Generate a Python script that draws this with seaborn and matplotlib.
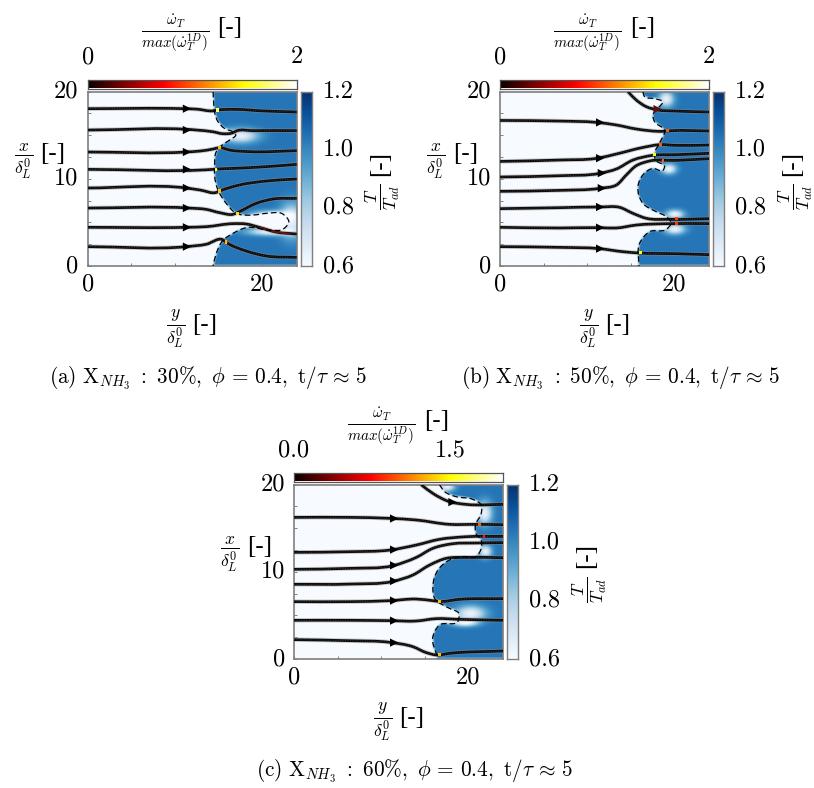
import numpy as np
import matplotlib
matplotlib.use("Agg")
import matplotlib.pyplot as plt
import seaborn as sns
from matplotlib.patches import PathPatch
from matplotlib.path import Path

sns.set_theme(style="ticks")
plt.rcParams["mathtext.fontset"] = "cm"
plt.rcParams["font.family"] = ["cmr10", "DejaVu Sans"]
plt.rcParams["axes.formatter.use_mathtext"] = True

W, H = 814, 788

# streamlines: y/delta values, then x/delta values
a_lines = [
    ([0, 11, 12.5, 14.4, 15, 17, 20, 24], [18.05, 18.05, 18.0, 17.8, 17.9, 17.97, 17.8, 17.67]),
    ([0, 12.5, 14.4, 15.5, 16.7, 17.06, 19, 24], [15.6, 15.6, 15.4, 15.18, 15.3, 15.49, 15.53, 15.53]),
    ([0, 11.3, 12.9, 14.4, 15.15, 16.3, 18.6, 24], [13.08, 13.08, 13.19, 13.42, 13.58, 13.3, 13.12, 13.23]),
    ([0, 14.4, 14.8, 16.7, 20.5, 24], [11.09, 11.09, 11.12, 11.2, 11.4, 11.66]),
    ([0, 11.3, 12.9, 14.8, 15.15, 17.4, 20.5, 24], [8.95, 8.95, 8.72, 8.45, 8.6, 9.29, 9.75, 9.98]),
    ([0, 11.6, 13.6, 15.15, 16.7, 17.4, 19.35, 21.3, 24], [6.65, 6.65, 6.5, 6.12, 5.93, 6.23, 7.19, 7.69, 7.76]),
    ([0, 11.3, 13.6, 16.7, 18.2, 19.7, 21.6, 24], [4.44, 4.44, 4.51, 4.86, 4.82, 4.44, 3.9, 3.67]),
    ([0, 11.3, 13.6, 15.5, 15.9, 18.2, 20.5, 24], [2.22, 2.22, 2.49, 3.02, 2.72, 1.72, 1.15, 0.99]),
]
b_lines = [
    ([14.7, 15.65, 16.8, 18.13, 20.2, 24], [20, 19.04, 18.28, 17.9, 17.78, 17.67]),
    ([0, 6.87, 11.07, 13.36, 15.65, 18.7, 19.85, 24], [16.7, 16.63, 16.48, 16.18, 15.72, 15.45, 15.53, 15.49]),
    ([0, 6.87, 11.07, 13.36, 16.4, 18.3, 20.2, 24], [12.0, 12.16, 12.35, 12.85, 13.6, 13.92, 13.84, 13.88]),
    ([0, 6.87, 11.45, 13.36, 15.27, 17.56, 20.2, 24], [10.21, 10.36, 10.63, 11.13, 12.16, 12.7, 12.77, 12.93]),
    ([0, 6.87, 11.45, 13.36, 14.5, 15.65, 17.18, 20.2, 24], [8.57, 8.68, 8.91, 9.29, 10.44, 11.51, 12.05, 12.12, 12.31]),
    ([0, 6.87, 11.45, 13.74, 15.27, 16.8, 19.47, 24], [6.58, 6.69, 6.77, 6.73, 6.04, 5.47, 5.35, 5.43]),
    ([0, 6.87, 11.45, 13.36, 15.65, 19.47, 24], [4.44, 4.36, 4.4, 4.36, 4.7, 4.86, 4.86]),
    ([0, 6.87, 11.45, 14.12, 16.03, 20.2, 24], [2.22, 2.14, 1.99, 1.64, 1.49, 1.41, 1.3]),
]
c_lines = [
    ([14.6, 15.95, 17.86, 19.77, 24], [20, 19.0, 18.05, 17.74, 17.74]),
    ([0, 6.4, 11, 14.05, 17.86, 20.9, 24], [16.25, 16.25, 16.14, 15.95, 15.45, 15.45, 15.41]),
    ([0, 6.4, 11, 14.05, 16.7, 19.77, 24], [12.24, 12.31, 12.5, 13.08, 13.73, 14.03, 14.07]),
    ([0, 6.4, 11.37, 14.05, 15.95, 18.24, 20.9, 24], [10.29, 10.4, 10.71, 11.66, 12.7, 13.23, 13.31, 13.35]),
    ([0, 6.4, 11.37, 13.66, 15.57, 17.48, 19.77, 24], [8.57, 8.6, 8.91, 9.64, 10.78, 11.55, 11.66, 11.62]),
    ([0, 6.4, 11, 14.05, 15.95, 16.7, 19.0, 24], [6.58, 6.58, 6.69, 6.88, 6.69, 6.6, 6.85, 6.92]),
    ([0, 6.4, 11, 14.05, 16.34, 19, 24], [4.44, 4.44, 4.4, 4.36, 4.63, 4.55, 4.44]),
    ([0, 6.4, 11, 13.66, 15.2, 16.34, 17.86, 24], [2.22, 2.1, 1.91, 1.41, 0.73, 0.46, 0.65, 0.92]),
]

# flame fronts (dashed), top to bottom
a_front_y = [14.4, 14.47, 14.6, 14.96, 15.9, 16.5, 17.0, 16.3, 15.34, 14.77, 14.58, 14.58, 14.96, 15.9, 17.06, 19, 20.5, 22.4, 23.1, 22.4, 21, 18.2, 16.7, 15.5, 14.77, 14.4]
a_front_x = [20, 18.66, 17.51, 16.56, 15.68, 15.49, 15.03, 14.45, 13.8, 13.12, 11.4, 10.25, 8.72, 7.19, 6.04, 5.85, 6.04, 5.97, 5.09, 4.2, 4.1, 4.4, 3.75, 2.9, 1.45, 0]
b_front_y = [16.4, 16.6, 17.75, 18.7, 18.13, 17.56, 17.75, 18.9, 18.3, 17.75, 17.86, 18.9, 18.7, 17.56, 16.4, 15.84, 16.4, 17.94, 19.1, 19.66, 19.1, 17.18, 16.03, 15.95]
b_front_x = [20, 19.43, 19.2, 18.85, 18.09, 17.32, 16.56, 15.6, 14.07, 12.93, 12.16, 11.4, 10.94, 11.2, 10.44, 9.1, 7.19, 6.23, 5.66, 4.97, 4.2, 3.94, 2.6, 0]
c_front_y = [16.7, 17.3, 18.63, 20.53, 21.5, 21.5, 20.84, 20.9, 21.5, 21.5, 20.9, 19.4, 17.86, 16.53, 15.95, 16.15, 17.86, 18.93, 18.8, 16.7, 15.95, 16.53]
c_front_x = [20, 19.2, 18.62, 18.32, 17.67, 16.7, 15.37, 14.4, 13.65, 12.7, 11.74, 11.74, 11.36, 10.2, 8.3, 6.96, 5.81, 5.24, 4.28, 3.9, 2.56, 0]

# arrow heads on the streamlines
a_arrow_y = [11.4] * 8
a_arrow_x = [18.05, 15.6, 13.08, 11.09, 8.95, 6.65, 4.44, 2.22]
a_arrow_c = ["black"] * 8
b_arrow_y = [18.1, 11.5, 11.5, 11.7, 11.7, 11.5, 11.5, 11.5]
b_arrow_x = [18.0, 16.47, 12.37, 10.66, 8.93, 6.77, 4.4, 1.99]
b_arrow_c = ["#5c1010"] + ["black"] * 7
c_arrow_y = [18.2, 11.5, 11.5, 11.5, 11.5, 11.5, 11.5, 11.5]
c_arrow_x = [18.0, 16.12, 12.55, 10.75, 8.95, 6.7, 4.4, 1.88]
c_arrow_c = ["black"] * 8

# heat release spots where the lines cross the front: y, x, value
a_heat = ([14.9, 14.75, 15.15, 15.1, 17.2, 15.9], [17.9, 11.1, 13.55, 8.6, 6.05, 2.75], [1.7, 1.6, 1.3, 1.3, 1.4, 1.3])
b_heat = ([19.2, 18.4, 17.75, 18.7, 16.1, 20.3, 20.3], [15.5, 13.9, 12.75, 12.1, 1.5, 5.4, 4.85], [1.0, 1.0, 1.5, 1.0, 1.5, 0.9, 0.9])
c_heat = ([21.3, 21.8, 16.7, 16.7], [15.45, 14.05, 6.6, 0.5], [1.0, 0.8, 1.3, 1.3])

# cool patches in the burnt gas: y, x, radius along y, radius along x
a_cool = ([17.5, 23.4, 21.0, 21.0], [14.9, 5.2, 5.8, 3.9], [1.4, 0.9, 1.5, 1.8], [0.55, 1.3, 0.35, 0.3])
b_cool = ([19.1, 19.4, 20.1, 20.1], [19.1, 11.1, 5.9, 4.2], [0.6, 0.6, 0.7, 0.8], [0.6, 0.4, 0.35, 0.4])
c_cool = ([21.9, 22.0, 20.3, 19.6, 17.6], [16.7, 12.3, 5.2, 4.15, 19.7], [0.6, 0.5, 1.2, 1.0, 0.6], [0.9, 0.5, 0.6, 0.3, 0.35])

# dark red stretch of a line running inside the cool tongue of panel (a)
a_warm = ([19.7, 21.6, 23.2], [4.44, 3.9, 3.72])

captions = [
    r"$\mathrm{(a)\ X}_{NH_3}\ :\ \mathrm{30\%,}\ \phi\,=\,\mathrm{0.4,\ t}/\tau\,\approx\,\mathrm{5}$",
    r"$\mathrm{(b)\ X}_{NH_3}\ :\ \mathrm{50\%,}\ \phi\,=\,\mathrm{0.4,\ t}/\tau\,\approx\,\mathrm{5}$",
    r"$\mathrm{(c)\ X}_{NH_3}\ :\ \mathrm{60\%,}\ \phi\,=\,\mathrm{0.4,\ t}/\tau\,\approx\,\mathrm{5}$",
]
top_labels = [["0", "2"], ["0", "2"], ["0.0", "1.5"]]
top_ticks = [[0, 2], [0, 2], [0, 1.5]]
right_ticks = [0.6, 0.8, 1.0, 1.2]
x_ticks = [0, 20]
y_ticks = [0, 10, 20]

fig = plt.figure(figsize=(W / 100, H / 100), dpi=100)
GREY = "#7f7f7f"
TICK_FS = 17.5
BAR = [(-1.8, -0.7), (1.8, -0.7), (1.8, 0.7), (-1.8, 0.7)]
CORE = [(-0.6, -0.7), (0.6, -0.7), (0.6, 0.7), (-0.6, 0.7)]


def add_ax(x0, y0, x1, y1):
    return fig.add_axes([x0 / W, 1 - y1 / H, (x1 - x0) / W, (y1 - y0) / H])


def put(x, y, s, **kw):
    kw.setdefault("ha", "center")
    kw.setdefault("va", "center")
    kw.setdefault("fontsize", TICK_FS)
    fig.text(x / W, 1 - y / H, s, color="black", **kw)


def dash_label(x, y, **kw):
    # cmr10 has a clumsy hyphen, the serif one is closer
    put(x, y, "[-]", family="Liberation Serif", fontsize=18, **kw)


def smooth(xs, ys):
    # bezier through the read points, nothing resampled
    p = np.c_[xs, ys].astype(float)
    seg = np.diff(p, axis=0)
    d = np.hypot(seg[:, 0], seg[:, 1])
    s = seg / d[:, None]
    t = np.zeros_like(p)
    t[0], t[-1] = s[0], s[-1]
    t[1:-1] = (s[:-1] * d[1:, None] + s[1:] * d[:-1, None]) / (d[1:, None] + d[:-1, None])
    verts = [p[0]]
    for i in range(len(d)):
        verts += [p[i] + t[i] * d[i] / 3, p[i + 1] - t[i + 1] * d[i] / 3, p[i + 1]]
    codes = [Path.MOVETO] + [Path.CURVE4] * (3 * len(d))
    return Path(verts, codes)


def stroke(ax, path, color, lw, ls="-", alpha=1.0, z=3):
    ax.add_patch(PathPatch(path, fc="none", ec=color, lw=lw, ls=ls, alpha=alpha, zorder=z, capstyle="butt"))


def soften(a, n=7):
    k = np.ones(n) / n
    a = np.pad(a, n, mode="edge")
    a = np.apply_along_axis(np.convolve, 0, a, k, mode="same")
    a = np.apply_along_axis(np.convolve, 1, a, k, mode="same")
    return a[n:-n, n:-n]


def temperature(front, cool):
    # burnt side of the front, softened, minus the cool patches
    gy, gx = np.meshgrid(np.linspace(0, 24, 480), np.linspace(0, 20, 400))
    outline = front.to_polygons(closed_only=False)[0]
    poly = Path(np.r_[outline, [[24, 0], [24, 20]]])
    mask = poly.contains_points(np.c_[gy.ravel(), gx.ravel()]).reshape(gy.shape).astype(float)
    frac = np.ones_like(gy)
    for cy, cx, ry, rx in zip(*cool):
        frac -= 0.9 * np.exp(-((gy - cy) ** 2 / (2 * ry**2) + (gx - cx) ** 2 / (2 * rx**2)))
    frac = np.clip(frac, 0, 1)
    return 0.6 + 0.44 * soften(mask) * frac


def panel(dx, dy, lines, fy, fx, ay, ax_, ac, heat, cool, caption, tlabels, tticks, warm=None):
    ax = add_ax(87.7 + dx, 91.7 + dy, 296.7 + dx, 266 + dy)
    front = smooth(fy, fx)
    ax.imshow(temperature(front, cool), extent=[0, 24, 0, 20], origin="lower",
              cmap="Blues", vmin=0.6, vmax=1.2, aspect="auto", interpolation="bilinear")
    for ly, lx in lines:
        path = smooth(ly, lx)
        stroke(ax, path, "#8c8c8c", 3.2, alpha=0.45)
        stroke(ax, path, "#0c0808", 1.9)
        stroke(ax, path, "#3a3a3a", 0.7, ls=(0, (1, 1.5)))
    if warm:
        stroke(ax, smooth(*warm), "#6a1210", 1.3, z=4)
    stroke(ax, front, "black", 0.9, ls=(0, (4.5, 2.5)), z=4)
    sns.scatterplot(x=ay, y=ax_, hue=list(range(len(ay))), palette=ac, marker=">", s=36,
                    edgecolor="none", legend=False, zorder=5, ax=ax)
    ax.scatter(heat[0], heat[1], c=np.array(heat[2]) * 0.6, cmap="hot", vmin=0, vmax=2, s=5, marker=BAR, linewidths=0, zorder=6)
    ax.scatter(heat[0], heat[1], c=heat[2], cmap="hot", vmin=0, vmax=2, s=5, marker=CORE, linewidths=0, zorder=7)
    ax.set_xlim(0, 24)
    ax.set_ylim(0, 20)
    ax.set_xticks(x_ticks)
    ax.set_yticks(y_ticks)
    ax.set_xticks([5, 10, 15], minor=True)
    ax.set_yticks([2.5, 5, 7.5, 12.5, 15, 17.5], minor=True)
    ax.tick_params(which="both", direction="in", length=2, width=0.7, color=GREY, labelbottom=False, labelleft=False)
    for sp in ax.spines.values():
        sp.set_color(GREY)
        sp.set_linewidth(1.2)
    for v in x_ticks:
        put(87.7 + dx + v * 8.708, 284 + dy, str(v))
    for v in y_ticks:
        put(78.5 + dx, 266 + dy - v * 8.715, str(v), ha="right")

    # colour bar on top
    top = add_ax(87.7 + dx, 79.5 + dy, 296.7 + dx, 88.5 + dy)
    top.imshow(np.linspace(0, 1, 256)[None, :], cmap="hot", aspect="auto", extent=[0, 2, 0, 1])
    top.set_xticks([])
    top.set_yticks([])
    for sp in top.spines.values():
        sp.set_color("#555555")
        sp.set_linewidth(0.9)
    for t, s in zip(tticks, tlabels):
        put(87.7 + dx + t / 2 * 209, 57 + dy, s)

    # colour bar on the right
    side = add_ax(301 + dx, 91.7 + dy, 312 + dx, 266 + dy)
    side.imshow(np.linspace(1, 0, 256)[:, None], cmap="Blues", aspect="auto", extent=[0, 1, 0.6, 1.2])
    side.set_xticks([])
    side.set_yticks([])
    for sp in side.spines.values():
        sp.set_color(GREY)
        sp.set_linewidth(1.0)
    for v in right_ticks:
        put(323 + dx, 266 + dy - (v - 0.6) / 0.6 * 174.3, f"{v:.1f}", ha="left")

    # axis labels
    put(175 + dx, 33 + dy, r"$\frac{\dot{\omega}_T}{max(\dot{\omega}_T^{1D})}$", fontsize=15.5)
    dash_label(230 + dx, 28 + dy)
    put(23.5 + dx, 161 + dy, r"$\frac{x}{\delta_L^0}$", fontsize=18)
    dash_label(53 + dx, 154 + dy)
    put(176 + dx, 329 + dy, r"$\frac{y}{\delta_L^0}$", fontsize=18)
    dash_label(205 + dx, 325 + dy)
    put(383 + dx, 197 + dy, r"$\frac{T}{T_{ad}}$", fontsize=18, rotation=90)
    dash_label(380 + dx, 163 + dy, rotation=90)
    put(208 + dx, 378 + dy, caption, fontsize=15.3)


panel(0, 0, a_lines, a_front_y, a_front_x, a_arrow_y, a_arrow_x, a_arrow_c, a_heat, a_cool, captions[0], top_labels[0], top_ticks[0], warm=a_warm)
panel(412.3, 0, b_lines, b_front_y, b_front_x, b_arrow_y, b_arrow_x, b_arrow_c, b_heat, b_cool, captions[1], top_labels[1], top_ticks[1])
panel(206.3, 393, c_lines, c_front_y, c_front_x, c_arrow_y, c_arrow_x, c_arrow_c, c_heat, c_cool, captions[2], top_labels[2], top_ticks[2])

fig.savefig("out.png", dpi=100)
